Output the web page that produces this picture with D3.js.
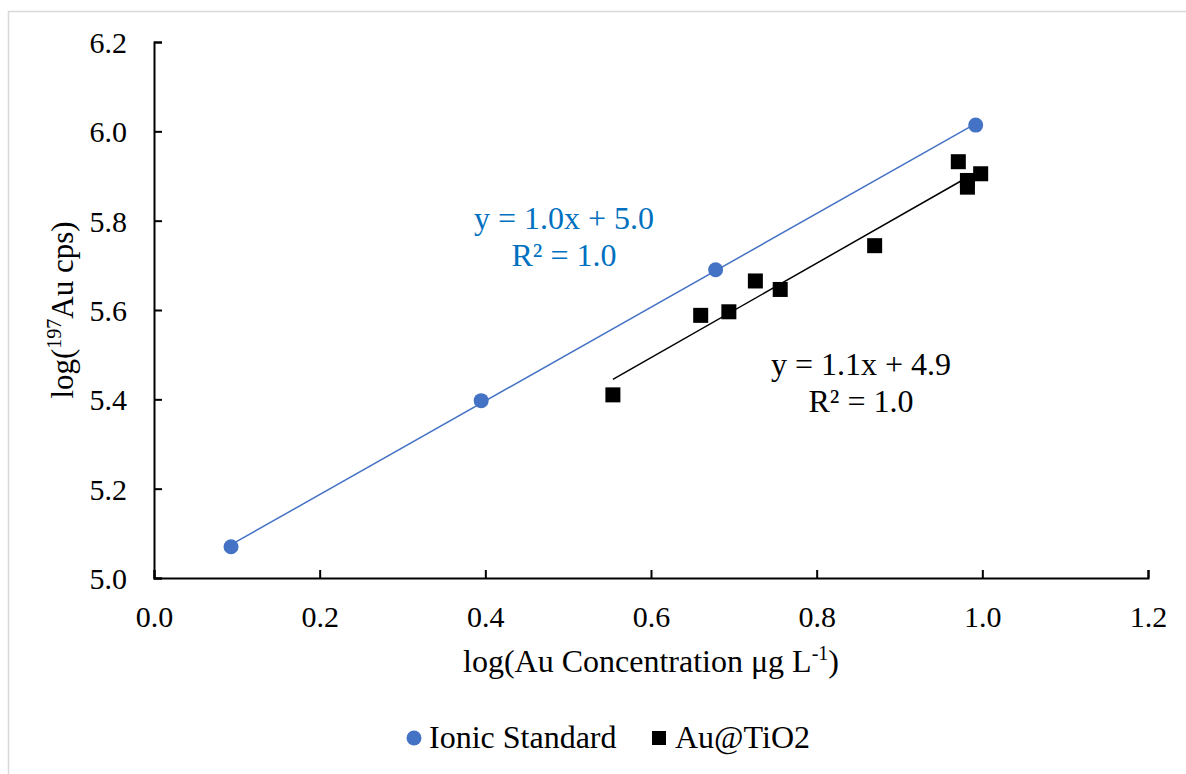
<!DOCTYPE html>
<html>
<head>
<meta charset="utf-8">
<script src="https://cdn.jsdelivr.net/npm/d3@7"></script>
<style>
  body { margin: 0; background: #fff; }
  svg text { font-family: "Liberation Serif", "Times New Roman", serif; }
</style>
</head>
<body>
<div id="chart"></div>
<script>
// values
const ionicX = [0.093, 0.395, 0.678, 0.992];
const ionicY = [5.070, 5.397, 5.690, 6.014];
const tioX = [0.554, 0.660, 0.694, 0.726, 0.756, 0.870, 0.971, 0.998, 0.982, 0.982];
const tioY = [5.410, 5.588, 5.596, 5.665, 5.646, 5.744, 5.932, 5.905, 5.890, 5.875];
const xTicks = [0, 0.2, 0.4, 0.6, 0.8, 1.0, 1.2];
const yTicks = [5.0, 5.2, 5.4, 5.6, 5.8, 6.0, 6.2];
const legendNames = ['Ionic Standard', 'Au@TiO2'];

const W = 1186, H = 774;
const margin = {top: 42, right: 38, bottom: 196, left: 154};

const svg = d3.select('#chart').append('svg')
  .attr('width', W).attr('height', H);

// light frame of the chart area
svg.append('rect')
  .attr('x', 8.5).attr('y', 11.5)
  .attr('width', W).attr('height', H)
  .attr('fill', 'none').attr('stroke', '#d9d9d9').attr('stroke-width', 1.5);

let x = d3.scaleLinear().domain([0, 1.2]).range([margin.left, W - margin.right]);
let y = d3.scaleLinear().domain([5.0, 6.2]).range([H - margin.bottom, margin.top]);

// axes, ticks pointing inwards
let xAxis = d3.axisTop(x).tickValues(xTicks).tickSize(8).tickFormat(d3.format('.1f'));
let yAxis = d3.axisRight(y).tickValues(yTicks).tickSize(8).tickFormat(d3.format('.1f'));

let gx = svg.append('g').attr('transform', 'translate(0,' + y(5.0) + ')').call(xAxis);
let gy = svg.append('g').attr('transform', 'translate(' + x(0) + ',0)').call(yAxis);

[gx, gy].forEach(function(g) {
  g.select('.domain').attr('stroke', '#000').attr('stroke-width', 2);
  g.selectAll('.tick line').attr('stroke', '#000').attr('stroke-width', 2);
  g.selectAll('.tick text').attr('fill', '#000').style('font-size', '30px');
});
gx.selectAll('.tick text').attr('y', 49).attr('dy', 0);
gy.selectAll('.tick text').attr('x', -27).attr('dy', '0.35em').attr('text-anchor', 'end');

// linear fit helper
function fit(xs, ys) {
  let n = xs.length, mx = d3.mean(xs), my = d3.mean(ys);
  let sxy = 0, sxx = 0;
  for (let i = 0; i < n; i++) { sxy += (xs[i] - mx) * (ys[i] - my); sxx += (xs[i] - mx) * (xs[i] - mx); }
  let b = sxy / sxx;
  return {b: b, a: my - b * mx};
}

function trend(xs, ys, color) {
  let f = fit(xs, ys);
  let x0 = d3.min(xs), x1 = d3.max(xs);
  svg.append('line')
    .attr('x1', x(x0)).attr('y1', y(f.a + f.b * x0))
    .attr('x2', x(x1)).attr('y2', y(f.a + f.b * x1))
    .attr('stroke', color).attr('stroke-width', 1.5);
}

trend(ionicX, ionicY, '#4472c4');
trend(tioX, tioY, '#000');

svg.selectAll('circle.ionic')
  .data(ionicX.map(function(d, i) { return [d, ionicY[i]]; }))
  .enter().append('circle')
  .attr('class', 'ionic')
  .attr('cx', function(d) { return x(d[0]); })
  .attr('cy', function(d) { return y(d[1]); })
  .attr('r', 7.5)
  .attr('fill', '#4472c4');

svg.selectAll('rect.tio')
  .data(tioX.map(function(d, i) { return [d, tioY[i]]; }))
  .enter().append('rect')
  .attr('class', 'tio')
  .attr('x', function(d) { return x(d[0]) - 7.5; })
  .attr('y', function(d) { return y(d[1]) - 7.5; })
  .attr('width', 15).attr('height', 15)
  .attr('fill', '#000');

// trendline equations
function eqLabel(cx, top, color, lines) {
  let t = svg.append('text').attr('text-anchor', 'middle').attr('fill', color).style('font-size', '32px');
  lines.forEach(function(s, i) {
    t.append('tspan').attr('x', cx).attr('y', top + i * 37).text(s);
  });
}
eqLabel(564, 229, '#0070c0', ['y = 1.0x + 5.0', 'R² = 1.0']);
eqLabel(861, 375, '#000', ['y = 1.1x + 4.9', 'R² = 1.0']);

// axis titles
let xt = svg.append('text').attr('x', 651).attr('y', 672)
  .attr('text-anchor', 'middle').style('font-size', '32px').attr('fill', '#000');
xt.append('tspan').text('log(Au Concentration μg L');
xt.append('tspan').attr('dy', -12).style('font-size', '20px').text('-1');
xt.append('tspan').attr('dy', 12).text(')');

let yt = svg.append('text')
  .attr('transform', 'translate(73,' + ((y(5.0) + y(6.2)) / 2) + ') rotate(-90)')
  .attr('text-anchor', 'middle').style('font-size', '31px').attr('fill', '#000');
yt.append('tspan').text('log(');
yt.append('tspan').attr('dy', -12).style('font-size', '20px').text('197');
yt.append('tspan').attr('dy', 12).text('Au cps)');

// legend
let lg = svg.append('g');
lg.append('circle').attr('cx', 414).attr('cy', 738).attr('r', 7.5).attr('fill', '#4472c4');
lg.append('text').attr('x', 429).attr('y', 748).style('font-size', '32px').text(legendNames[0]);
lg.append('rect').attr('x', 652).attr('y', 731).attr('width', 14).attr('height', 14).attr('fill', '#000');
lg.append('text').attr('x', 675).attr('y', 748).style('font-size', '32px').text(legendNames[1]);
</script>
</body>
</html>
